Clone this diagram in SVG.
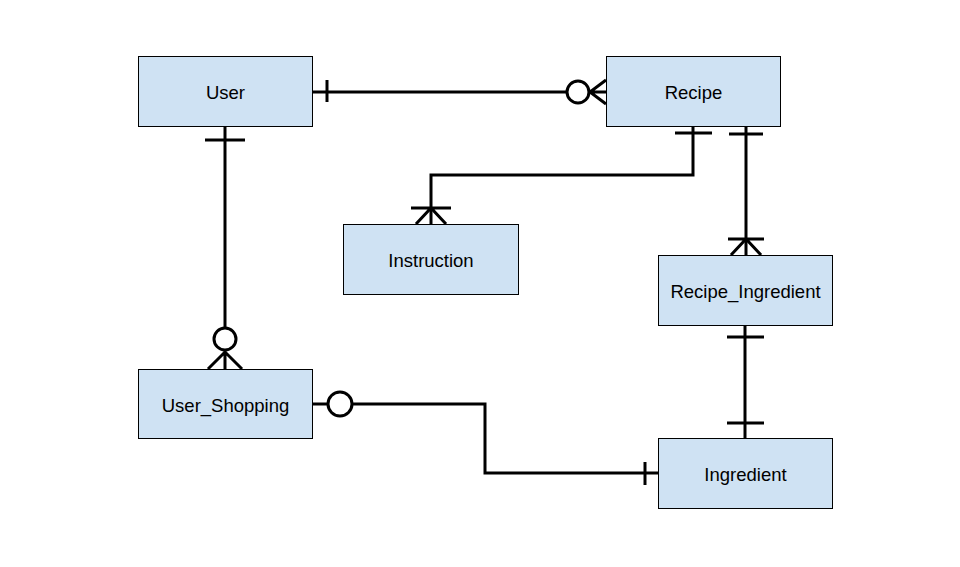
<svg xmlns="http://www.w3.org/2000/svg" width="960" height="567" viewBox="0 0 960 567">
<style>
.box{fill:#cfe2f3;stroke:#000;stroke-width:1}
.lbl{font-family:"Liberation Sans",Arial,sans-serif;font-size:18.5px;fill:#000;text-anchor:middle;dominant-baseline:central}
.ln{fill:none;stroke:#000;stroke-width:3}
.ci{fill:#fff;stroke:#000;stroke-width:3}
</style>
<rect width="960" height="567" fill="#fff"/>
<g id="connectors">
<path class="ln" d="M312 92H567"/>
<path class="ln" d="M327 80V102"/>
<circle class="ci" cx="578" cy="92" r="11"/>
<path class="ln" d="M589 92H606M606 80L590 92L606 104"/>

<path class="ln" d="M693 126V175H431V224"/>
<path class="ln" d="M675 133H712"/>
<path class="ln" d="M411 208H451M416 224L431 208L446 224"/>

<path class="ln" d="M746 126V255"/>
<path class="ln" d="M729 134H763"/>
<path class="ln" d="M728 239H764M731 255L746 239L761 255"/>

<path class="ln" d="M225 126V328"/>
<path class="ln" d="M205 140H245"/>
<circle class="ci" cx="225" cy="339" r="11"/>
<path class="ln" d="M225 350V369M208 369L225 352L242 369"/>

<path class="ln" d="M745 325V438"/>
<path class="ln" d="M727 337H764M727 423H764"/>

<path class="ln" d="M312 404H328M352 404H485V473H658"/>
<circle class="ci" cx="340" cy="404" r="12"/>
<path class="ln" d="M645 462V485"/>
</g>
<g id="User"><rect class="box" x="138.5" y="56.5" width="174" height="70"/><text class="lbl" x="225.5" y="92.5">User</text></g>
<g id="Recipe"><rect class="box" x="606.5" y="56.5" width="174" height="70"/><text class="lbl" x="693.5" y="92.5">Recipe</text></g>
<g id="Instruction"><rect class="box" x="343.5" y="224.5" width="175" height="70"/><text class="lbl" x="431" y="260.5">Instruction</text></g>
<g id="Recipe_Ingredient"><rect class="box" x="658.5" y="255.5" width="174" height="70"/><text class="lbl" x="745.5" y="291.5">Recipe_Ingredient</text></g>
<g id="User_Shopping"><rect class="box" x="138.5" y="369.5" width="174" height="69"/><text class="lbl" x="225.5" y="405.5">User_Shopping</text></g>
<g id="Ingredient"><rect class="box" x="658.5" y="438.5" width="174" height="70"/><text class="lbl" x="745.5" y="474.5">Ingredient</text></g>
</svg>
